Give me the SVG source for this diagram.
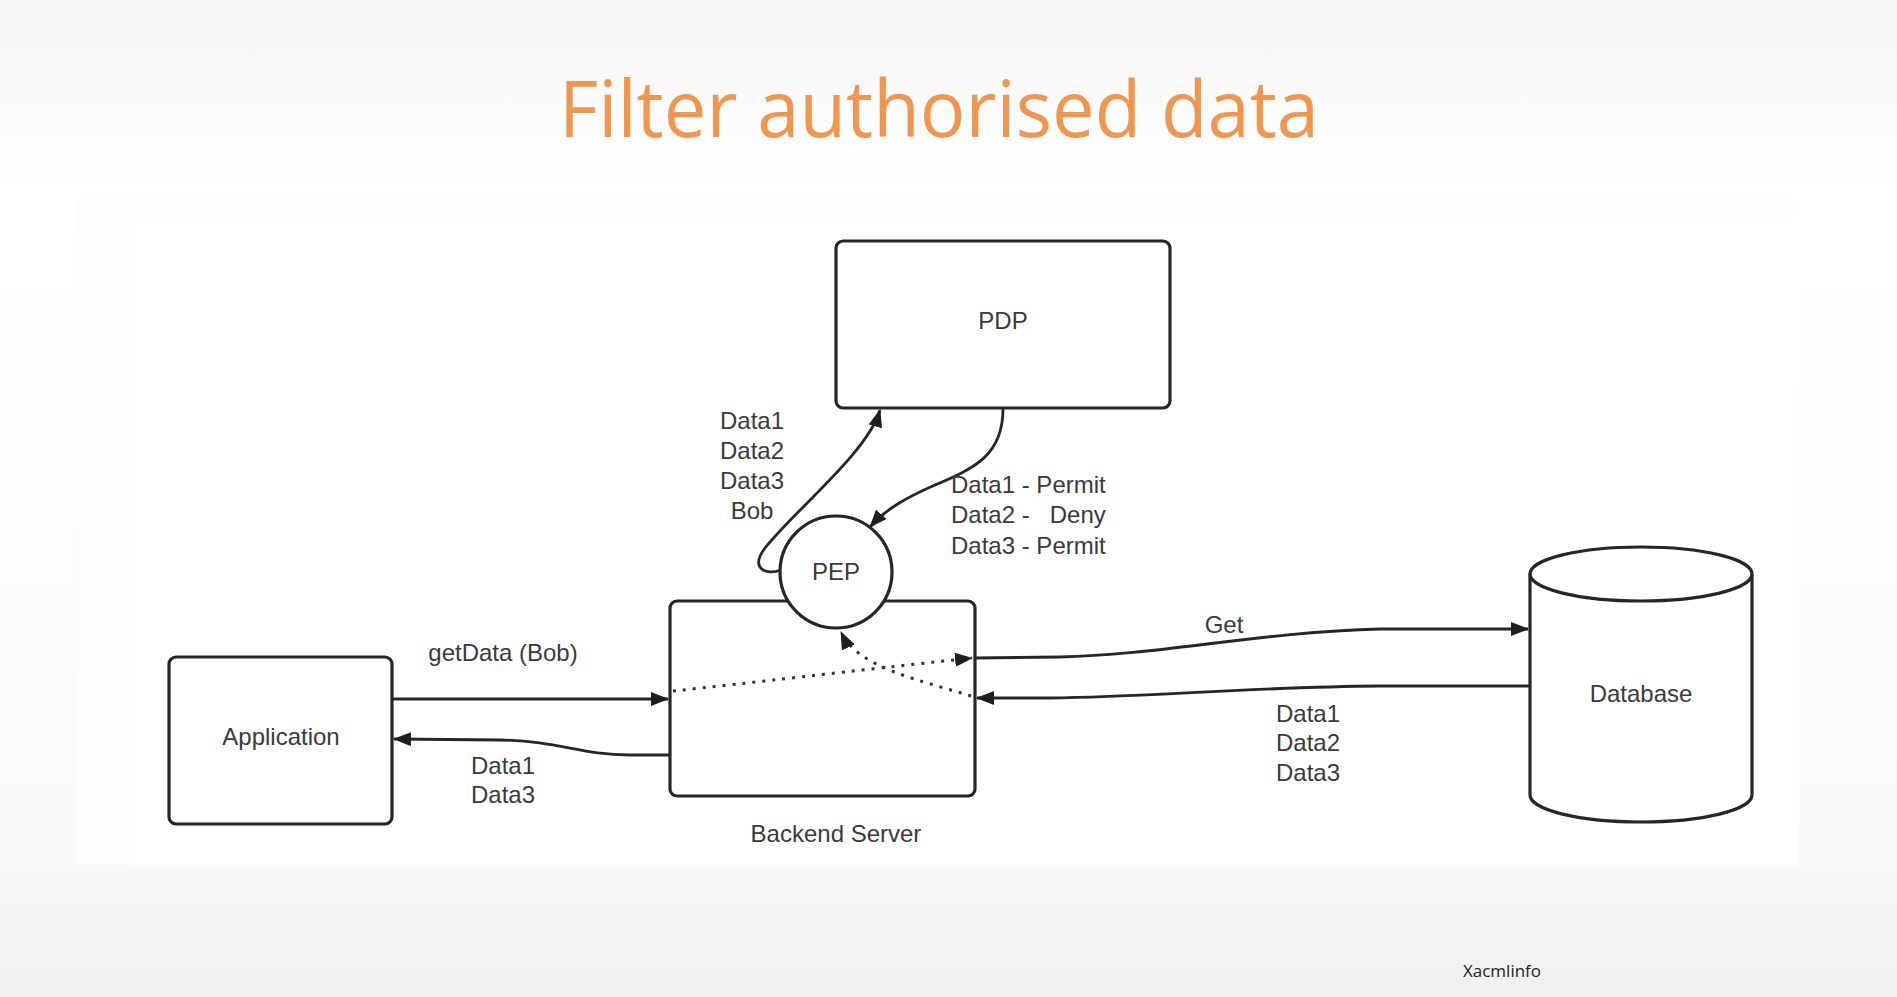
<svg xmlns="http://www.w3.org/2000/svg" width="1897" height="997" viewBox="0 0 1897 997">
<defs>
<linearGradient id="bg" x1="0" y1="0" x2="0" y2="1">
<stop offset="0" stop-color="#f6f6f6"/>
<stop offset="0.2" stop-color="#ffffff"/>
<stop offset="0.86" stop-color="#fafafa"/>
<stop offset="0.92" stop-color="#f4f4f4"/>
<stop offset="1" stop-color="#f0f0f0"/>
</linearGradient>
<marker id="arr" markerUnits="userSpaceOnUse" markerWidth="18" markerHeight="14" refX="17" refY="7" orient="auto">
<path d="M0,0 L18,7 L0,14 z" fill="#1e1e1e"/>
</marker>
<style>
.shape{fill:#ffffff;stroke:#262626;stroke-width:3.2}
.lbl{font-family:"Liberation Sans",Arial,sans-serif;font-size:24px;fill:#3a3a3a}
.c{text-anchor:middle}
.edge{fill:none;stroke:#262626;stroke-width:2.8}
.dot{fill:none;stroke:#333;stroke-width:3;stroke-dasharray:3 7}
</style>
</defs>
<rect width="1897" height="997" fill="url(#bg)"/>
<rect x="76" y="200" width="1723" height="665" fill="#fcfefb"/>
<rect x="130" y="215" width="1669" height="650" fill="#ffffff"/>
<text x="939" y="137" text-anchor="middle" font-family="'Open Sans','Liberation Sans',sans-serif" font-size="78" fill="#f0964f" textLength="760" lengthAdjust="spacingAndGlyphs">Filter authorised data</text>

<g id="application">
<rect class="shape" x="169" y="657" width="223" height="167" rx="7"/>
<text class="lbl c" x="281" y="745">Application</text>
</g>
<g id="backend">
<rect class="shape" x="670" y="601" width="305" height="195" rx="7"/>
<text class="lbl c" x="836" y="842">Backend Server</text>
</g>
<g id="pdp">
<rect class="shape" x="836" y="241" width="334" height="167" rx="7"/>
<text class="lbl c" x="1003" y="329">PDP</text>
</g>
<g id="pep">
<circle class="shape" cx="836" cy="572" r="56"/>
<text class="lbl c" x="836" y="580">PEP</text>
</g>
<g id="database">
<path class="shape" d="M1530 574 L1530 795 A111 27 0 0 0 1752 795 L1752 574"/>
<ellipse class="shape" cx="1641" cy="574" rx="111" ry="27"/>
<text class="lbl c" x="1641" y="702">Database</text>
</g>

<g id="connectors">
<path class="edge" d="M392 699 L668 699" marker-end="url(#arr)"/>
<path class="edge" d="M670 755 L630 755 C580 755 560 741 500 740 L394 739" marker-end="url(#arr)"/>
<path class="edge" d="M975 658 L1060 657 C1160 655 1260 632 1380 629 L1528 629" marker-end="url(#arr)"/>
<path class="edge" d="M1530 686 L1380 686 C1250 687 1150 697 1050 698 L977 698" marker-end="url(#arr)"/>
<path class="dot" d="M673 691 C750 683 850 671 972 658" marker-end="url(#arr)"/>
<path class="dot" d="M971 696 C920 680 858 668 841 632" marker-end="url(#arr)"/>
<path class="edge" d="M781 570 C765 576 750 568 765 548 C795 510 868 452 880 410" marker-end="url(#arr)"/>
<path class="edge" d="M1003 409 C1003 455 975 468 935 485 C905 498 885 510 870 527" marker-end="url(#arr)"/>
</g>

<g id="labels">
<text class="lbl c" x="752" y="429">Data1</text>
<text class="lbl c" x="752" y="459">Data2</text>
<text class="lbl c" x="752" y="489">Data3</text>
<text class="lbl c" x="752" y="519">Bob</text>
<text class="lbl" x="951" y="493">Data1 - Permit</text>
<text class="lbl" x="951" y="523" xml:space="preserve">Data2 -   Deny</text>
<text class="lbl" x="951" y="554">Data3 - Permit</text>
<text class="lbl c" x="503" y="661">getData (Bob)</text>
<text class="lbl c" x="503" y="774">Data1</text>
<text class="lbl c" x="503" y="803">Data3</text>
<text class="lbl c" x="1224" y="633">Get</text>
<text class="lbl c" x="1308" y="722">Data1</text>
<text class="lbl c" x="1308" y="751">Data2</text>
<text class="lbl c" x="1308" y="781">Data3</text>
</g>
<text x="1502" y="977" text-anchor="middle" font-family="'Open Sans','Liberation Sans',sans-serif" font-size="17" fill="#222">Xacmlinfo</text>
</svg>
